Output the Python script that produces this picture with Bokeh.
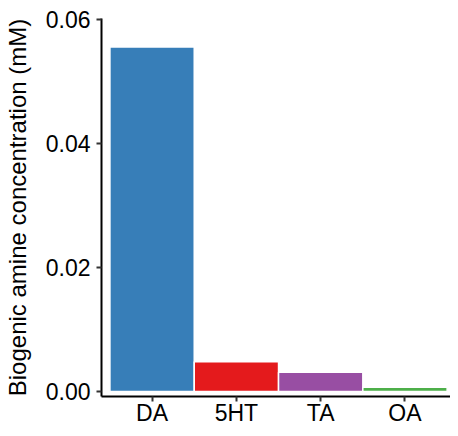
from bokeh.plotting import figure
from bokeh.models import ColumnDataSource, FixedTicker, Range1d
from bokeh.embed import file_html
from bokeh.resources import INLINE

amines = ["DA", "5HT", "TA", "OA"]
concentration = [0.0555, 0.0048, 0.0031, 0.0007]
bar_colors = ["#377EB8", "#E41A1C", "#984EA3", "#4DAF4A"]
y_ticks = [0.00, 0.02, 0.04, 0.06]
y_tick_labels = ["0.00", "0.02", "0.04", "0.06"]

pos = list(range(1, len(amines) + 1))
src = ColumnDataSource(dict(x=pos, top=concentration, color=bar_colors, name=amines))

p = figure(width=450, height=428, output_backend="svg", toolbar_location=None,
           x_range=Range1d(0.4, 4.54), y_range=Range1d(-0.0008, 0.0601),
           min_border_left=95, min_border_right=0, min_border_top=18, min_border_bottom=20)

p.vbar(x="x", top="top", bottom=0, width=1.0, fill_color="color",
       line_color="white", line_width=1.5, source=src)

p.xgrid.visible = False
p.ygrid.visible = False
p.outline_line_color = None
p.background_fill_color = "white"
p.border_fill_color = "white"

font = "Liberation Sans"
for ax in (p.xaxis[0], p.yaxis[0]):
    ax.axis_line_color = "black"
    ax.axis_line_width = 2
    ax.major_tick_line_color = "#333333"
    ax.major_tick_line_width = 2
    ax.major_tick_in = 0
    ax.major_tick_out = 5
    ax.minor_tick_line_color = None
    ax.major_label_text_font = font
    ax.major_label_text_font_size = "23px"
    ax.major_label_text_color = "black"
    ax.axis_label_text_font = font
    ax.axis_label_text_font_style = "normal"
    ax.axis_label_text_color = "black"

p.xaxis[0].ticker = FixedTicker(ticks=pos)
p.xaxis[0].major_label_overrides = {i: n for i, n in zip(pos, amines)}
p.xaxis[0].major_label_standoff = -2

p.yaxis[0].ticker = FixedTicker(ticks=y_ticks)
p.yaxis[0].major_label_overrides = {t: l for t, l in zip(y_ticks, y_tick_labels)}
p.yaxis[0].major_label_standoff = 6
p.yaxis[0].axis_label = "Biogenic amine concentration (mM)"
p.yaxis[0].axis_label_text_font_size = "24px"
p.yaxis[0].axis_label_standoff = 12

open("out.html", "w").write(file_html(p, INLINE))
